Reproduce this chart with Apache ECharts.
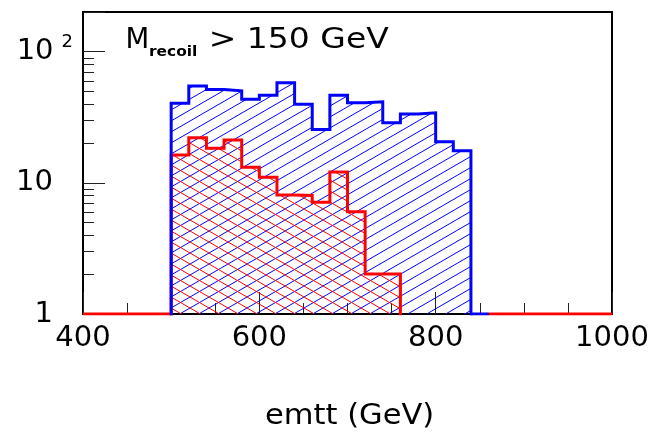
<!DOCTYPE html>
<html><head><meta charset="utf-8">
<script src="https://cdn.jsdelivr.net/npm/echarts@6/dist/echarts.min.js"></script>
<style>html,body{margin:0;padding:0;background:#fff}#c{width:664px;height:436px}</style>
</head><body><div id="c"></div>
<script>
// ---- data ----
const binWidth = 20;
const blueBinStarts = [500,520,540,560,580,600,620,640,660,680,700,720,740,760,780,800,820];
const blueValues    = [40.3,54.5,51.4,50.2,43.2,46.5,57.8,39.7,25.4,46.5,40.7,41.4,28.6,33.4,34.1,20.5,17.5];
const redBinStarts  = [500,520,540,560,580,600,620,640,660,680,700,720,740];
const redValues     = [16.3,22.0,18.3,21.2,13.1,11.0,8.06,8.0,7.09,12.1,6.0,2.02,2.02];
// empty-bin stretches drawn along the floor of the plot
const redEmptySpans  = [[400,500],[860,1000]];
const blueEmptySpans = [[840,860]];
const xTickValues = [400,600,800,1000];
const yTickValues = [1,10,100];
const yTickBase   = ['1','10','10'];
const yTickExp    = ['','','2'];
const yMinorTicks = [2,3,4,5,6,7,8,9,20,30,40,50,60,70,80,90,200];
const X_MIN = 400, X_MAX = 1000, Y_MIN = 1, Y_MAX = 200;
const titleMain = 'M', titleSub = 'recoil', titleRest = '> 150 GeV';
const xTitle = 'emtt (GeV)';

function stepData(starts, vals) {
  const pts = [[starts[0], Y_MIN]];
  for (let i = 0; i < starts.length; i++) pts.push([starts[i], vals[i]]);
  const end = starts[starts.length - 1] + binWidth;
  pts.push([end, vals[vals.length - 1]]);
  pts.push([end, Y_MIN]);
  return pts;
}
function spanData(spans) {
  const pts = [];
  spans.forEach((s, i) => { if (i) pts.push(null); pts.push([s[0], Y_MIN], [s[1], Y_MIN]); });
  return pts;
}
function hatch(color, forward) {
  const W = 19, H = 11;
  const c = document.createElement('canvas'); c.width = W; c.height = H;
  const ctx = c.getContext('2d'); ctx.strokeStyle = color; ctx.lineWidth = 1;
  for (let k = -1; k <= 1; k++) for (let m = -1; m <= 1; m++) {
    ctx.beginPath();
    if (forward) { ctx.moveTo(k*W, H + m*H); ctx.lineTo(k*W + W, m*H); }
    else { ctx.moveTo(k*W, m*H); ctx.lineTo(k*W + W, H + m*H); }
    ctx.stroke();
  }
  return { image: c, repeat: 'repeat' };
}
const BLUE = '#0000ff', RED = '#ff0000';
const blueStep = stepData(blueBinStarts, blueValues);
const redStep = stepData(redBinStarts, redValues);
const FONT = 'DejaVu Sans';

const chart = echarts.init(document.getElementById('c'), null, {renderer: 'canvas'});
chart.setOption({
  animation: false,
  backgroundColor: '#fff',
  grid: { left: 83, right: 52, top: 12, bottom: 122, show: true, borderColor: '#000', borderWidth: 2, backgroundColor: 'transparent', containLabel: false, outerBoundsMode: 'none' },
  xAxis: {
    type: 'value', min: X_MIN, max: X_MAX, interval: 200,
    axisLine: { onZero: false, lineStyle: { color: '#000', width: 2 } },
    axisTick: { inside: true, length: 22, lineStyle: { color: '#222', width: 1 } },
    minorTick: { show: true, splitNumber: 4, length: 11, lineStyle: { color: '#222', width: 1 } },
    splitLine: { show: false }, minorSplitLine: { show: false },
    axisLabel: { fontFamily: FONT, fontSize: 29, color: '#000', margin: 10,
      formatter: v => (xTickValues.indexOf(v) >= 0 ? String(v) : '') }
  },
  yAxis: {
    type: 'log', logBase: 10, min: Y_MIN, max: Y_MAX,
    axisLine: { onZero: false, lineStyle: { color: '#000', width: 2 } },
    axisTick: { inside: true, length: 22, lineStyle: { color: '#222', width: 1 } },
    splitLine: { show: false },
    axisLabel: {
      margin: 10, align: 'right', color: '#000',
      formatter: v => {
        for (let i = 0; i < yTickValues.length; i++) {
          if (Math.abs(v - yTickValues[i]) < 1e-6 * yTickValues[i]) {
            return yTickExp[i] ? '{b|' + yTickBase[i] + '}{s|' + yTickExp[i] + '}' : '{n|' + yTickBase[i] + '}';
          }
        }
        return '';
      },
      rich: {
        n: { fontFamily: FONT, fontSize: 29, color: '#000', padding: [0, 20, 0, 0] },
        b: { fontFamily: FONT, fontSize: 29, color: '#000' },
        s: { fontFamily: FONT, fontSize: 18, color: '#000', padding: [0, 0, 18, 8] }
      }
    }
  },
  graphic: [
    { type: 'text', x: 125.5, y: 40.5, style: { text: titleMain, font: '27.5px "DejaVu Sans"', fill: '#000', verticalAlign: 'middle', align: 'left' } },
    { type: 'text', x: 149, y: 52.2, scaleX: 1.1, style: { text: titleSub, font: 'bold 14px "DejaVu Sans"', fill: '#000', verticalAlign: 'middle', align: 'left' } },
    { type: 'text', x: 208.7, y: 40.5, scaleX: 1.2, style: { text: titleRest, font: '27.5px "DejaVu Sans"', fill: '#000', verticalAlign: 'middle', align: 'left' } },
    { type: 'text', x: 265, y: 416.3, scaleX: 1.09, style: { text: xTitle, font: '28px "DejaVu Sans"', fill: '#000', verticalAlign: 'middle', align: 'left' } }
  ],
  series: [
    { type: 'line', data: blueStep, step: 'end', symbol: 'none', z: 1,
      lineStyle: { width: 0, opacity: 0 }, areaStyle: { color: hatch(BLUE, true), opacity: 1 } },
    { type: 'line', data: redStep, step: 'end', symbol: 'none', z: 2,
      lineStyle: { width: 0, opacity: 0 }, areaStyle: { color: hatch(RED, false), opacity: 1 } },
    { type: 'line', data: redStep, step: 'end', symbol: 'none', z: 3,
      lineStyle: { color: RED, width: 3, join: 'miter', cap: 'square' } },
    { type: 'line', data: spanData(redEmptySpans), symbol: 'none', z: 3, connectNulls: false,
      lineStyle: { color: RED, width: 3 } },
    { type: 'line', data: blueStep, step: 'end', symbol: 'none', z: 4,
      lineStyle: { color: BLUE, width: 3, join: 'miter', cap: 'square' } },
    { type: 'line', data: spanData(blueEmptySpans), symbol: 'none', z: 4,
      lineStyle: { color: BLUE, width: 3 } },
    { type: 'custom', z: 5, clip: false,
      data: yMinorTicks.map(v => [X_MIN, v]),
      renderItem: (params, api) => {
        const p = api.coord([api.value(0), api.value(1)]);
        const y = Math.round(p[1]) + 0.5;
        return { type: 'line', shape: { x1: p[0], y1: y, x2: p[0] + 11, y2: y }, style: { stroke: '#222', lineWidth: 1 } };
      } }
  ]
});
</script></body></html>
